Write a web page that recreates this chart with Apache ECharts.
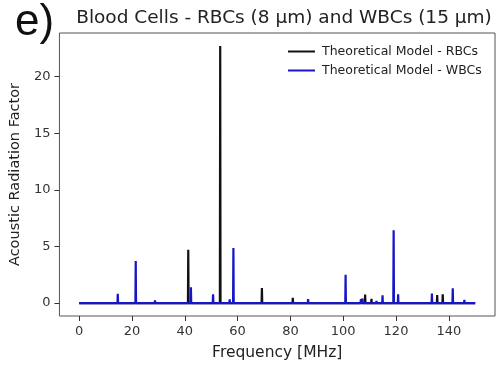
<!DOCTYPE html>
<html>
<head>
<meta charset="utf-8">
<script src="https://cdn.jsdelivr.net/npm/echarts@6/dist/echarts.min.js"></script>
<style>
  html, body { margin: 0; padding: 0; background: #fff; }
  #chart { width: 501px; height: 368px; }
</style>
</head>
<body>
<div id="chart"></div>
<script>
// spike positions (MHz) and heights
const rbcFreq   = [41.3, 53.4, 69.2, 80.9, 108.3, 110.7, 135.6, 137.7];
const rbcHeight = [4.70, 22.7, 1.32, 0.47, 0.75, 0.38, 0.70, 0.78];

const wbcFreq   = [6.9, 14.6, 21.4, 28.7, 36.1, 42.3, 49.0, 50.7, 57.0, 58.4, 71.5, 84.3, 86.7, 92.5, 96.9,
                   100.9, 106.7, 107.3, 112.6, 114.9, 119.1, 120.8, 128.3, 130.8, 133.6, 141.5, 145.9, 147.2];
const wbcHeight = [0.12, 0.82, 3.72, 0.24, 0.16, 1.40, 0.08, 0.77, 0.34, 4.87, 0.15, 0.10, 0.35, 0.10, 0.10,
                   2.50, 0.35, 0.40, 0.20, 0.68, 6.43, 0.77, 0.10, 0.10, 0.85, 1.30, 0.28, 0.15];

const freqRange = [0, 150];
const xTicks = [0, 20, 40, 60, 80, 100, 120, 140];
const yTicks = [0, 5, 10, 15, 20];

// baseline at zero with a thin spike at every frequency
function spikes(freqs, heights) {
  const pts = [[freqRange[0], 0]];
  const d = 0.12;
  freqs.forEach((f, i) => {
    pts.push([f - d, 0], [f, heights[i]], [f + d, 0]);
  });
  pts.push([freqRange[1], 0]);
  return pts;
}

const chart = echarts.init(document.getElementById('chart'));
chart.setOption({
  animation: false,
  title: [
    {
      text: 'e)', left: 10, top: -4,
      textStyle: { fontFamily: 'Liberation Sans', fontSize: 44, fontWeight: 'normal', color: '#111' }
    },
    {
      text: 'Blood Cells - RBCs (8 µm) and WBCs (15 µm)', left: 279, top: 4, textAlign: 'center',
      textStyle: { fontFamily: 'DejaVu Sans', fontSize: 18.5, fontWeight: 'normal', color: '#222' }
    }
  ],
  legend: {
    orient: 'vertical', left: 283, top: 40, itemGap: 6,
    itemWidth: 27, itemHeight: 2, icon: 'rect',
    textStyle: { fontFamily: 'DejaVu Sans', fontSize: 12.5, color: '#222', padding: [0, 0, 0, 2] },
    data: ['Theoretical Model - RBCs', 'Theoretical Model - WBCs']
  },
  grid: {
    left: 59, top: 33, width: 436, height: 283,
    show: true, borderColor: '#555', borderWidth: 1, backgroundColor: '#fff'
  },
  xAxis: {
    type: 'value', min: -7.5, max: 157.5,
    name: 'Frequency [MHz]', nameLocation: 'middle', nameGap: 29,
    nameTextStyle: { fontFamily: 'DejaVu Sans', fontSize: 15.5, color: '#222' },
    axisLine: { show: false, onZero: false },
    splitLine: { show: false },
    axisTick: { show: true, customValues: xTicks, length: 5, lineStyle: { color: '#333', width: 1 } },
    axisLabel: { customValues: xTicks, margin: 9, fontFamily: 'DejaVu Sans', fontSize: 13, color: '#333' }
  },
  yAxis: {
    type: 'value', min: -1.14, max: 23.84,
    name: 'Acoustic Radiation Factor', nameLocation: 'middle', nameGap: 35, nameRotate: 90,
    nameTextStyle: { fontFamily: 'DejaVu Sans', fontSize: 14.5, color: '#222' },
    axisLine: { show: false, onZero: false },
    splitLine: { show: false },
    axisTick: { show: true, customValues: yTicks, length: 5, lineStyle: { color: '#333', width: 1 } },
    axisLabel: { customValues: yTicks, margin: 9, fontFamily: 'DejaVu Sans', fontSize: 13, color: '#333' }
  },
  series: [
    {
      name: 'Theoretical Model - RBCs', type: 'line', showSymbol: false,
      lineStyle: { color: '#111', width: 2.2 }, itemStyle: { color: '#111' },
      data: spikes(rbcFreq, rbcHeight)
    },
    {
      name: 'Theoretical Model - WBCs', type: 'line', showSymbol: false,
      lineStyle: { color: '#1616c8', width: 2.2 }, itemStyle: { color: '#1616c8' },
      data: spikes(wbcFreq, wbcHeight)
    }
  ]
});
</script>
</body>
</html>
